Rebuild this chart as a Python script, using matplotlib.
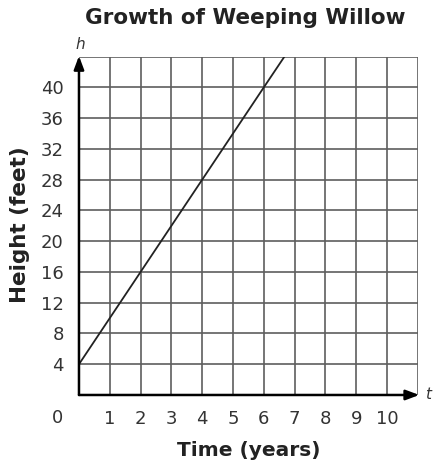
import numpy as np
import matplotlib.pyplot as plt

# data
years = [0, 1, 2, 3, 4, 5, 6, 6.67]
height = [4, 10, 16, 22, 28, 34, 40, 44]
x_ticks = list(range(1, 11))
y_ticks = list(range(4, 44, 4))

W, H = 433, 461
fig = plt.figure(figsize=(W / 100, H / 100), dpi=100)
ax = fig.add_axes([0.1824, 0.1432, 0.7823, 0.7338])
ax.set_xlim(0, 11)
ax.set_ylim(0, 44)

grid_c = '#5e5e5e'
for x in range(1, 12):
    ax.axvline(x, color=grid_c, lw=1.2, zorder=1)
for y in range(4, 48, 4):
    ax.axhline(y, color=grid_c, lw=1.2, zorder=1)

ax.plot(years, height, color='#222222', lw=1.3, zorder=3)

# axes with arrows
arrow = dict(arrowstyle='-|>,head_length=0.8,head_width=0.3',
             color='black', lw=1.8, shrinkA=0, shrinkB=0)
ax.annotate('', xy=(0, 44.1), xytext=(0, 0), annotation_clip=False, arrowprops=arrow)
ax.annotate('', xy=(11.05, 0), xytext=(0, 0), annotation_clip=False, arrowprops=arrow)

for s in ax.spines.values():
    s.set_visible(False)
ax.set_xticks(x_ticks)
ax.set_yticks(y_ticks)
ax.tick_params(length=0, labelsize=13, labelcolor='#333333')
ax.tick_params(axis='x', pad=11)
ax.tick_params(axis='y', pad=11)
fig.text(57.7 / W, 1 - 418 / H, '0', fontsize=13, color='#333333', ha='center', va='center')

ax.text(0.05, 45.6, 'h', fontsize=11, style='italic', ha='center', va='center', color='#333333')
ax.text(11.35, 0, 't', fontsize=11, style='italic', ha='center', va='center', color='#333333')

fig.text(245 / W, 1 - 18 / H, 'Growth of Weeping Willow', fontsize=15.5, fontweight='bold',
         ha='center', va='center', color='#222222')
fig.text(249 / W, 1 - 450 / H, 'Time (years)', fontsize=14.5, fontweight='bold',
         ha='center', va='center', color='#222222')
fig.text(20 / W, 1 - 225 / H, 'Height (feet)', fontsize=15.5, fontweight='bold', rotation=90,
         ha='center', va='center', color='#222222')

fig.savefig('out.png', dpi=100)
